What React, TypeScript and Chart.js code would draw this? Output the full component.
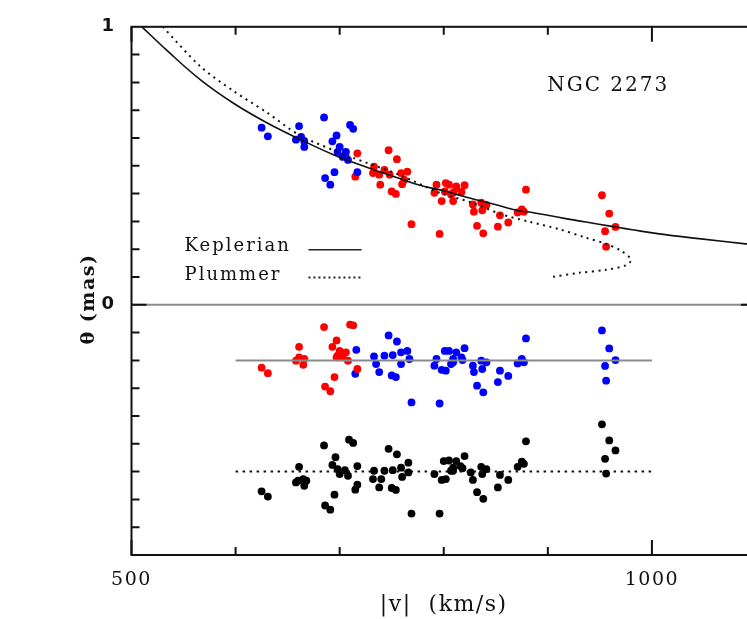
import React, { useEffect, useRef } from "react";
import { Chart, registerables } from "chart.js";

Chart.register(...registerables);

// ---- axes ----
const xRange = [500, 1100];
const yRange = [-0.9, 1.0];
const xTickLabelValues = [500, 1000];
const yTickLabelValues = [0, 1];
const xMinorTicks = [600, 700, 800, 900];
const xMajorTicks = [500, 1000];
const yMinorTicks = [-0.8, -0.7, -0.6, -0.5, -0.4, -0.3, -0.2, -0.1, 0.1, 0.2, 0.3, 0.4, 0.5, 0.6, 0.7, 0.8, 0.9];
const yMajorTicks = [0];

// ---- upper panel: positions theta vs |v| ----
const blueV = [625, 631, 661, 658, 663, 666, 666, 685, 697, 693, 700, 698, 706, 703, 708, 710, 713, 695, 686, 691, 717];
const blueTheta = [0.637, 0.606, 0.643, 0.594, 0.604, 0.588, 0.568, 0.674, 0.609, 0.588, 0.568, 0.55, 0.55, 0.532, 0.521, 0.647, 0.633, 0.477, 0.456, 0.432, 0.477];

const redV = [717, 715, 747, 755, 733, 732, 738, 743, 739, 748, 759, 765, 762, 760, 750, 754, 769, 796, 793, 802, 791, 801, 807, 798, 809, 812, 805, 812, 820, 809, 817, 836, 841, 829, 837, 828, 854, 862, 852, 832, 838, 879, 875, 871, 877, 952, 959, 965, 955, 956];
const redTheta = [0.545, 0.461, 0.556, 0.524, 0.497, 0.474, 0.468, 0.485, 0.432, 0.468, 0.474, 0.479, 0.45, 0.434, 0.408, 0.399, 0.29, 0.255, 0.432, 0.438, 0.403, 0.408, 0.397, 0.373, 0.373, 0.42, 0.432, 0.426, 0.43, 0.403, 0.406, 0.367, 0.359, 0.335, 0.34, 0.361, 0.322, 0.296, 0.281, 0.284, 0.257, 0.414, 0.343, 0.332, 0.335, 0.394, 0.328, 0.28, 0.265, 0.209];

// ---- lower panel: residuals (offset) ----
const redResV = [625, 631, 661, 661, 666, 658, 665, 685, 697, 693, 700, 706, 698, 703, 708, 697, 710, 713, 717, 695, 686, 691];
const redResY = [-0.226, -0.246, -0.151, -0.189, -0.195, -0.201, -0.216, -0.08, -0.128, -0.151, -0.166, -0.171, -0.183, -0.189, -0.201, -0.189, -0.071, -0.074, -0.231, -0.26, -0.294, -0.311];

const blueResV = [716, 715, 747, 755, 733, 735, 743, 751, 759, 765, 767, 759, 738, 750, 754, 769, 796, 793, 801, 805, 791, 798, 809, 812, 807, 802, 820, 817, 818, 836, 841, 828, 837, 829, 854, 862, 852, 832, 838, 879, 875, 871, 877, 952, 959, 965, 955, 956, 809];
const blueResY = [-0.162, -0.248, -0.11, -0.132, -0.186, -0.213, -0.183, -0.181, -0.171, -0.166, -0.195, -0.213, -0.242, -0.254, -0.26, -0.351, -0.355, -0.195, -0.166, -0.166, -0.219, -0.234, -0.195, -0.171, -0.213, -0.237, -0.156, -0.189, -0.199, -0.201, -0.207, -0.219, -0.231, -0.242, -0.237, -0.256, -0.278, -0.291, -0.315, -0.121, -0.195, -0.211, -0.207, -0.092, -0.157, -0.199, -0.22, -0.273, -0.207];

const blackResV = [625, 631, 661, 660, 665, 668, 666, 658, 685, 696, 693, 698, 705, 700, 708, 709, 713, 717, 717, 715, 695, 686, 691, 747, 755, 733, 732, 740, 743, 751, 759, 766, 766, 760, 738, 750, 754, 769, 796, 791, 800, 805, 798, 809, 812, 807, 802, 820, 816, 818, 809, 836, 841, 826, 837, 828, 854, 862, 852, 832, 838, 879, 875, 871, 877, 952, 959, 965, 955, 956];
const blackResY = [-0.671, -0.69, -0.583, -0.633, -0.627, -0.633, -0.651, -0.639, -0.506, -0.548, -0.576, -0.591, -0.595, -0.609, -0.615, -0.485, -0.497, -0.58, -0.647, -0.665, -0.683, -0.722, -0.737, -0.518, -0.538, -0.597, -0.627, -0.627, -0.597, -0.595, -0.586, -0.568, -0.603, -0.619, -0.657, -0.659, -0.666, -0.751, -0.751, -0.609, -0.562, -0.56, -0.63, -0.586, -0.562, -0.597, -0.627, -0.544, -0.58, -0.588, -0.597, -0.583, -0.591, -0.603, -0.609, -0.63, -0.612, -0.63, -0.657, -0.674, -0.698, -0.491, -0.564, -0.583, -0.572, -0.43, -0.488, -0.524, -0.554, -0.607];

// ---- model curves ----
const keplerV = [510, 534, 566, 598, 630, 662, 694, 726, 757, 777, 800, 821, 853, 872, 885, 917, 949, 968, 981, 1007, 1045, 1090, 1100];
const keplerTheta = [1.0, 0.915, 0.81, 0.725, 0.655, 0.595, 0.54, 0.495, 0.455, 0.43, 0.41, 0.388, 0.357, 0.338, 0.332, 0.31, 0.29, 0.278, 0.27, 0.255, 0.238, 0.219, 0.215];

const plummerV = [530, 566, 598, 630, 662, 710, 757, 796, 825, 856, 882, 911, 936, 956, 971, 980, 975, 956, 930, 903];
const plummerTheta = [1.0, 0.858, 0.769, 0.692, 0.609, 0.533, 0.468, 0.403, 0.37, 0.325, 0.299, 0.272, 0.242, 0.219, 0.193, 0.162, 0.142, 0.126, 0.115, 0.1];

// ---- reference lines ----
const zeroLineV = [500, 1100];
const zeroLevel = 0;
const residLineV = [600, 1000];
const keplerResidLevel = -0.2;
const plummerResidLevel = -0.6;

// ---- annotation texts ----
const galaxyName = "NGC 2273";
const legendLabels = ["Keplerian", "Plummer"];

const pts = (xs: number[], ys: number[]) => xs.map((x, i) => ({ x, y: ys[i] }));
const flat = (xs: number[], level: number) => xs.map((x) => ({ x, y: level }));

const SERIF = "'DejaVu Serif', serif";

const decorPlugin = {
  id: "decor",
  beforeDraw(chart: any) {
    chart.ctx.letterSpacing = "1.5px";
  },
  afterDatasetsDraw(chart: any) {
    const { ctx, chartArea: a, scales } = chart;
    const x = scales.x;
    const y = scales.y;
    ctx.save();
    ctx.letterSpacing = "0px";
    // frame
    ctx.strokeStyle = "#111";
    ctx.lineWidth = 2;
    ctx.strokeRect(a.left, a.top, a.right - a.left, a.bottom - a.top);
    ctx.beginPath();
    const xt = (v: number, len: number) => {
      const px = x.getPixelForValue(v);
      ctx.moveTo(px, a.bottom);
      ctx.lineTo(px, a.bottom - len);
      ctx.moveTo(px, a.top);
      ctx.lineTo(px, a.top + len);
    };
    const yt = (v: number, len: number) => {
      const py = y.getPixelForValue(v);
      ctx.moveTo(a.left, py);
      ctx.lineTo(a.left + len, py);
      ctx.moveTo(a.right, py);
      ctx.lineTo(a.right - len, py);
    };
    xMinorTicks.forEach((v) => xt(v, 8));
    xMajorTicks.forEach((v) => xt(v, 15));
    yMinorTicks.forEach((v) => yt(v, 8));
    yMajorTicks.forEach((v) => yt(v, 15));
    ctx.stroke();

    // galaxy name
    ctx.fillStyle = "#111";
    ctx.letterSpacing = "2px";
    ctx.font = `20px ${SERIF}`;
    ctx.textAlign = "center";
    ctx.textBaseline = "alphabetic";
    ctx.fillText(galaxyName, x.getPixelForValue(958), y.getPixelForValue(0.77));

    // legend
    ctx.font = `18px ${SERIF}`;
    ctx.textAlign = "left";
    const lx = x.getPixelForValue(551);
    const l1 = x.getPixelForValue(670);
    const l2 = x.getPixelForValue(721);
    ctx.fillText(legendLabels[0], lx, y.getPixelForValue(0.192));
    ctx.fillText(legendLabels[1], lx, y.getPixelForValue(0.089));
    ctx.lineWidth = 1.3;
    ctx.strokeStyle = "#222";
    ctx.beginPath();
    ctx.moveTo(l1, y.getPixelForValue(0.198));
    ctx.lineTo(l2, y.getPixelForValue(0.198));
    ctx.stroke();
    ctx.lineWidth = 2;
    ctx.setLineDash([2, 3]);
    ctx.beginPath();
    ctx.moveTo(l1, y.getPixelForValue(0.098));
    ctx.lineTo(l2, y.getPixelForValue(0.098));
    ctx.stroke();
    ctx.restore();
  },
};

export default function App() {
  const ref = useRef<HTMLCanvasElement | null>(null);
  useEffect(() => {
    if (!ref.current) return;
    const dot = (data: any[], color: string) => ({
      data,
      showLine: false,
      pointRadius: 3.9,
      pointBorderWidth: 0,
      pointBackgroundColor: color,
      pointBorderColor: color,
      pointStyle: "circle",
    });
    const line = (data: any[], color: string, width: number, dash: number[] = [], tension = 0) => ({
      data,
      showLine: true,
      borderColor: color,
      borderWidth: width,
      borderDash: dash,
      pointRadius: 0,
      tension,
      fill: false,
    });
    const chart = new Chart(ref.current, {
      type: "scatter",
      data: {
        datasets: [
          line(pts(keplerV, keplerTheta), "#111", 1.6, [], 0.4),
          line(pts(plummerV, plummerTheta), "#111", 2, [2, 4.5], 0.3),
          line(flat(residLineV, keplerResidLevel), "#8a8a8a", 2),
          line(flat(residLineV, plummerResidLevel), "#111", 2, [2.5, 4.5]),
          dot(pts(blueV, blueTheta), "#0000ff"),
          dot(pts(redV, redTheta), "#ff0000"),
          dot(pts(redResV, redResY), "#ff0000"),
          dot(pts(blueResV, blueResY), "#0000ff"),
          dot(pts(blackResV, blackResY), "#000000"),
          line(flat(zeroLineV, zeroLevel), "#8a8a8a", 2),
        ] as any,
      },
      options: {
        animation: false,
        responsive: false,
        events: [],
        layout: { padding: { top: 20, right: 2.6, left: 0, bottom: 0 } },
        plugins: { legend: { display: false }, tooltip: { enabled: false } },
        scales: {
          x: {
            type: "linear",
            min: xRange[0],
            max: xRange[1],
            afterBuildTicks: (s: any) => {
              s.ticks = xTickLabelValues.map((v) => ({ value: v }));
            },
            afterFit: (s: any) => {
              s.height = 64;
            },
            grid: { display: false, drawTicks: false },
            border: { display: false },
            ticks: {
              autoSkip: false,
              maxRotation: 0,
              padding: 14,
              color: "#111",
              font: { family: SERIF, size: 19 },
              callback: (v: any) => String(v),
            },
            title: {
              display: true,
              text: "|v|  (km/s)",
              color: "#111",
              font: { family: SERIF, size: 22 },
              padding: { top: 0, bottom: 1 },
            },
          },
          y: {
            type: "linear",
            min: yRange[0],
            max: yRange[1],
            afterBuildTicks: (s: any) => {
              s.ticks = yTickLabelValues.map((v) => ({ value: v }));
            },
            afterFit: (s: any) => {
              s.width = 131.5;
            },
            grid: { display: false, drawTicks: false },
            border: { display: false },
            ticks: {
              padding: 16,
              color: "#111",
              font: { family: "'DejaVu Sans', sans-serif", size: 18, weight: "bold" },
              callback: (v: any) => String(v),
            },
            title: {
              display: true,
              text: "θ (mas)  ",
              color: "#111",
              font: { family: SERIF, size: 19, weight: "bold" },
              padding: { top: 78, bottom: 0 },
            },
          },
        },
      },
      plugins: [decorPlugin],
    });
    return () => chart.destroy();
  }, []);
  return (
    <div style={{ position: "fixed", left: 0, top: 0, width: 747, height: 619, overflow: "hidden", background: "#fff" }}>
      <canvas ref={ref} width={760} height={619} style={{ display: "block", width: 760, height: 619 }} />
    </div>
  );
}
